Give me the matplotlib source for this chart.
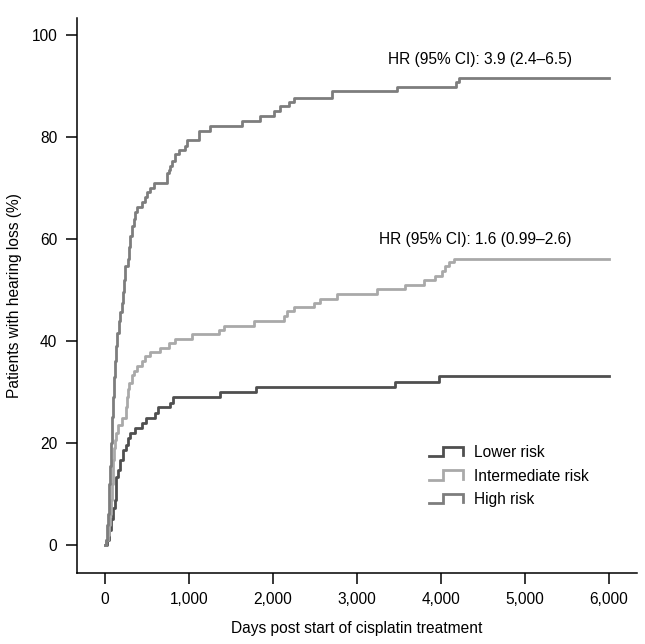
import numpy as np
import matplotlib
matplotlib.use('Agg')
from matplotlib import pyplot as plt
from matplotlib.lines import Line2D
from matplotlib.legend_handler import HandlerLine2D

plt.rcParams['font.family'] = ['Liberation Sans', 'DejaVu Sans']
plt.rcParams['font.size'] = 11.2

# cumulative incidence curves (day of step, % after the step)
high_days = [0, 10, 20, 28, 35, 42, 50, 60, 70, 84, 95, 107, 120, 135, 147, 165, 179, 205, 219, 230,
             239, 278, 290, 298, 320, 340, 358, 378, 438, 470, 497, 530, 577, 736, 756, 776, 800,
             835, 875, 955, 975, 1113, 1245, 1631, 1850, 2008, 2088, 2187, 2247, 2705, 3472,
             4177, 4216, 6000]
high_pct = [0, 1, 2, 4, 6, 9, 12, 15.4, 20, 25, 29, 33, 36, 39, 41.6, 44, 45.6, 47.5, 49.5, 52,
            54.7, 56, 58.5, 60.6, 62.5, 64, 65.2, 66.2, 67.2, 68.2, 69.1, 70, 70.9, 73.0, 73.6, 74.3, 75.3,
            76.6, 77.5, 78.3, 79.4, 81.2, 82.2, 83.2, 84.1, 85.1, 86.0, 86.9, 87.7, 88.9, 89.7,
            90.7, 91.5, 91.5]

mid_days = [0, 15, 30, 45, 55, 68, 80, 90, 99, 110, 120, 131, 159, 199, 250, 259, 275, 290, 318,
            345, 378, 438, 480, 537, 656, 760, 835, 1034, 1352, 1412, 1770, 2128, 2168, 2247, 2486,
            2557, 2764, 3233, 3571, 3798, 3926, 4017, 4045, 4096, 4156, 6000]
mid_pct = [0, 1, 2, 4, 6, 8.8, 12, 14.5, 16.7, 19, 20.5, 22, 23.6, 24.9, 27, 29.1, 30.5, 31.8, 33.4,
           34.2, 35.0, 36.0, 37, 37.8, 38.6, 39.5, 40.3, 41.3, 42.2, 43.0, 43.9, 44.9, 45.8, 46.7, 47.5,
           48.3, 49.2, 50.1, 50.9, 51.9, 52.7, 53.7, 54.7, 55.5, 56.1, 56.1]

low_days = [0, 20, 50, 75, 92, 119, 125, 131, 159, 179, 219, 251, 275, 298, 358, 438, 489, 597,
            636, 776, 806, 1372, 1802, 3449, 3978, 6000]
low_pct = [0, 1, 3, 5, 7.2, 8.8, 11, 13.4, 14.7, 16.7, 18.7, 19.6, 21, 21.9, 22.9, 23.9, 24.9, 25.9,
           27.0, 27.8, 29.0, 29.9, 31.0, 32.0, 33.1, 33.1]

x_ticks = [0, 1000, 2000, 3000, 4000, 5000, 6000]
x_labels = ['0', '1,000', '2,000', '3,000', '4,000', '5,000', '6,000']
y_ticks = [0, 20, 40, 60, 80, 100]

col_low = '#4f4f4f'
col_mid = '#a9a9a9'
col_high = '#7d7d7d'


class StepHandler(HandlerLine2D):
    # legend glyph drawn as a small step
    def create_artists(self, legend, orig_handle, xdescent, ydescent, width, height, fontsize, trans):
        x0 = -xdescent
        y0 = -ydescent
        xs = [x0, x0 + 0.42 * width, x0 + 0.42 * width, x0 + width, x0 + width]
        ys = [y0, y0, y0 + height, y0 + height, y0 + 0.1 * height]
        line = Line2D(xs, ys, color=orig_handle.get_color(), lw=orig_handle.get_linewidth(),
                      solid_joinstyle='miter')
        line.set_transform(trans)
        return [line]


fig = plt.figure(figsize=(6.45, 6.44), dpi=100)
ax = fig.add_axes([0.119, 0.111, 0.868, 0.861])

l1, = ax.step(low_days, low_pct, where='post', color=col_low, lw=2.0, label='Lower risk')
l2, = ax.step(mid_days, mid_pct, where='post', color=col_mid, lw=2.0, label='Intermediate risk')
l3, = ax.step(high_days, high_pct, where='post', color=col_high, lw=2.0, label='High risk')

ax.text(4464, 95.1, 'HR (95% CI): 3.9 (2.4\u20136.5)', ha='center', va='center')
ax.text(4411, 59.8, 'HR (95% CI): 1.6 (0.99\u20132.6)', ha='center', va='center')

ax.set_xlim(-337, 6330)
ax.set_ylim(-5.4, 103.3)
ax.set_xticks(x_ticks)
ax.set_xticklabels(x_labels)
ax.set_yticks(y_ticks)
ax.tick_params(direction='out', length=8, width=1.1, pad=6, labelsize=11.2)
for s in ['top', 'right']:
    ax.spines[s].set_visible(False)
for s in ['left', 'bottom']:
    ax.spines[s].set_linewidth(1.1)

ax.set_xlabel('Days post start of cisplatin treatment', labelpad=10)
ax.set_ylabel('Patients with hearing loss (%)', labelpad=7)

ax.legend(handles=[l1, l2, l3], handler_map={Line2D: StepHandler()},
          loc='upper left', bbox_to_anchor=(429 / 645, (644 - 445) / 644),
          bbox_transform=fig.transFigure, frameon=False, borderpad=0, borderaxespad=0,
          handlelength=2.2, handleheight=0.55, handletextpad=0.7, labelspacing=0.55)

fig.savefig('out.png', dpi=100)
